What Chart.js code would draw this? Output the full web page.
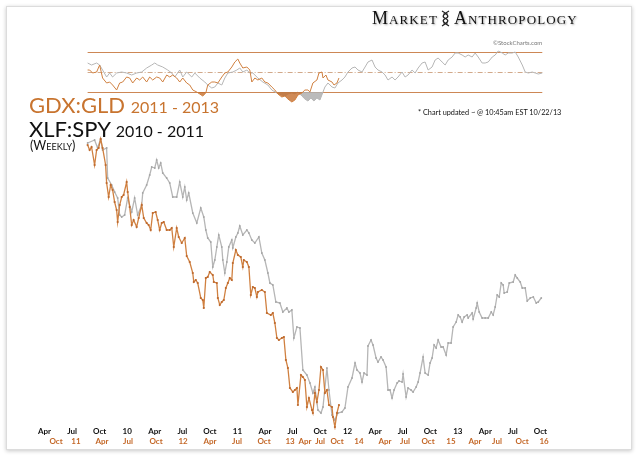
<!DOCTYPE html>
<html><head><meta charset="utf-8">
<script src="https://cdn.jsdelivr.net/npm/chart.js@4.4.1/dist/chart.umd.min.js"></script>
<style>
html,body{margin:0;padding:0;background:#fff;width:640px;height:461px;overflow:hidden;}
#card{position:absolute;left:6px;top:6px;width:624px;height:442px;border:1px solid #dcdcdc;box-shadow:0 1px 4px rgba(0,0,0,0.22);background:#fff;}
#wrap{position:absolute;left:0;top:0;width:640px;height:461px;}
.t{position:absolute;white-space:nowrap;font-family:Lato,'Open Sans',sans-serif;line-height:1;}
#brand{left:372px;top:9px;font-family:'Liberation Serif','DejaVu Serif',serif;font-size:18px;font-variant:small-caps;color:#111;text-shadow:1px 1px 2px rgba(0,0,0,0.35);letter-spacing:1.1px;}
#brand svg{vertical-align:-3px;margin:0 4px 0 3px;}
#sc{left:493px;top:40px;font-size:6px;color:#777;}
#t1{left:29px;top:94px;font-size:22px;color:#c8742f;}
#t1 span{font-size:16px;}
#t2{left:29px;top:118px;font-size:22px;color:#111;}
#t2 span{font-size:16px;}
#t3{left:30px;top:140px;font-size:12.5px;font-variant:small-caps;color:#111;}
#upd{left:418px;top:109px;font-size:7.3px;color:#111;}
</style></head>
<body>
<div id="card"></div>
<div id="wrap"><canvas id="c" width="640" height="461"></canvas></div>
<div class="t" id="brand">Market<svg width="9" height="17" viewBox="0 0 9 17"><path d="M1 1 C8 5, 8 7, 4.5 8.5 C1 10, 1 12, 8 16" stroke="#222" stroke-width="1.3" fill="none"/><path d="M8 1 C1 5, 1 7, 4.5 8.5 C8 10, 8 12, 1 16" stroke="#222" stroke-width="1.3" fill="none"/><path d="M2 4H7M2 13H7" stroke="#222" stroke-width="0.8"/></svg>Anthropology</div>
<div class="t" id="sc">©StockCharts.com</div>
<div class="t" id="t1">GDX:GLD <span>2011 - 2013</span></div>
<div class="t" id="t2">XLF:SPY <span>2010 - 2011</span></div>
<div class="t" id="t3">(Weekly)</div>
<div class="t" id="upd">* Chart updated ~ @ 10:45am EST 10/22/13</div>
<script>
// x positions are months since Jan 2009 (XLF:SPY timeline)
const grayMonths = [7.69,8.45,8.78,9.11,9.32,9.76,9.87,10.31,10.63,10.96,11.18,11.40,11.72,12.05,12.49,12.81,13.14,13.58,13.69,14.12,14.45,14.67,15.00,15.21,15.43,15.65,15.87,16.30,16.63,16.96,17.39,17.72,18.05,18.27,18.48,18.70,19.14,19.58,20.01,20.34,20.56,20.77,21.10,21.32,21.54,21.76,21.97,22.30,22.41,22.63,22.85,23.06,23.39,23.50,23.83,24.05,24.26,24.59,25.03,25.25,25.57,25.90,26.34,26.66,26.99,27.32,27.54,27.86,28.19,28.63,28.95,29.39,29.61,29.93,30.15,30.48,30.81,31.13,31.57,31.90,32.22,32.44,32.77,33.10,33.32,33.75,33.97,34.30,34.62,34.95,35.39,35.71,36.04,36.48,36.81,37.02,37.35,37.57,37.79,38.11,38.22,38.55,38.77,39.10,39.31,39.64,39.86,40.19,40.40,40.62,40.84,41.06,41.39,41.60,41.93,42.04,42.37,42.58,42.91,43.13,43.46,43.68,43.89,44.22,44.44,44.77,44.98,45.20,45.42,45.64,45.86,46.18,46.40,46.73,46.95,47.27,47.49,47.82,48.04,48.26,48.47,48.69,49.02,49.13,49.56,49.67,50.00,50.11,50.33,50.65,50.98,51.31,51.64,51.85,52.07,52.29,52.51,52.73,52.94,53.05,53.38,53.60,54.03,54.25,54.47,54.80,55.02,55.34,55.56,55.89,56.22,56.54,56.76,57.09];
const grayValues = [297,300,292,301,290,292,262,255,248,242,225,223,225,242,228,242,225,235,247,255,265,273,272,280,272,277,267,262,257,243,243,258,243,253,240,247,227,217,232,223,210,202,198,173,180,193,205,193,180,167,178,193,200,192,203,207,214,205,210,207,200,197,203,187,180,167,157,155,138,137,128,132,128,130,102,113,112,70,65,57,47,53,30,27,33,72,50,25,20,27,28,32,53,62,77,70,67,58,67,65,94,100,95,82,78,83,80,73,50,50,42,50,57,59,58,66,43,52,50,48,53,58,67,83,67,65,77,82,95,92,100,93,93,85,97,97,113,118,125,123,118,123,125,122,127,121,132,137,128,122,122,122,128,125,133,145,143,157,155,147,148,157,158,165,162,158,152,152,139,142,143,137,138,142];

// GDX:GLD plotted on the same axis (shifted timeline)
const orangeMonths = [7.69,7.91,8.12,8.45,8.67,8.89,9.11,9.32,9.65,9.76,9.98,10.20,10.41,10.63,10.85,10.96,11.18,11.40,11.61,11.94,12.05,12.27,12.49,12.70,13.03,13.25,13.58,13.80,14.12,14.34,14.56,14.78,15.10,15.32,15.54,15.76,15.98,16.30,16.63,16.85,17.07,17.39,17.61,17.94,18.27,18.48,18.81,19.14,19.25,19.47,19.68,20.01,20.23,20.34,20.56,20.77,20.99,21.32,21.43,21.76,21.87,22.08,22.30,22.52,22.74,22.96,23.17,23.39,23.50,23.83,24.05,24.37,24.59,24.70,25.03,25.25,25.46,25.68,25.90,26.12,26.23,26.66,26.99,27.21,27.64,27.86,28.08,28.30,28.52,28.84,29.06,29.28,29.50,29.72,30.04,30.26,30.48,30.59,30.92,31.13,31.35,31.57,31.79,32.12,32.22,32.44,32.66,32.88,33.10,33.32,33.53,33.75,33.97,34.30,34.41,34.62,34.84,35.06];
const orangeValues = [295,290,293,275,290,292,301,292,275,257,243,255,250,238,230,218,235,243,245,258,248,233,215,220,213,222,235,222,217,215,210,227,228,220,210,217,218,210,210,212,193,212,203,197,202,184,178,167,158,160,157,142,140,132,162,163,168,165,158,157,142,135,138,140,152,157,162,160,177,190,185,183,173,180,178,173,145,153,152,143,148,150,148,127,125,127,117,102,100,102,103,80,72,52,48,50,52,35,65,63,60,33,42,30,27,47,38,50,73,70,47,50,35,33,23,13,27,35];

// top panel oscillator
const rsiGrayMonths = [7.69,8.12,8.67,9.00,9.32,9.76,10.09,10.41,10.85,11.40,11.94,12.49,13.03,13.58,14.12,14.67,15.00,15.32,15.87,16.41,16.85,17.18,17.72,18.05,18.48,19.03,19.36,19.90,20.45,20.77,21.21,21.54,21.87,22.30,22.63,22.96,23.50,23.94,24.26,24.59,25.03,25.35,25.68,26.23,26.77,27.32,27.75,28.30,28.84,29.17,29.50,29.93,30.26,30.59,31.02,31.35,31.68,32.01,32.33,32.66,32.99,33.32,33.53,33.86,34.30,34.62,34.95,35.39,35.71,36.04,36.48,36.81,37.13,37.57,37.90,38.22,38.66,38.99,39.31,39.75,40.08,40.40,40.84,41.17,41.49,41.93,42.26,42.58,43.02,43.35,43.68,44.11,44.44,44.77,45.20,45.53,45.86,46.29,46.62,46.95,47.38,47.71,48.04,48.47,48.80,49.13,49.56,49.89,50.22,50.65,50.98,51.31,51.75,52.07,52.40,52.84,53.16,53.49,53.93,54.25,54.58,55.02,55.34,55.67,56.11,56.43,56.76,57.20];
const rsiGrayValues = [59,57,59,57,52,45,49,45,49,50,49,47,49,50,54,57,59,57,55,52,49,45,52,45,50,45,49,44,40,37,34,35,39,37,44,49,50,52,54,50,52,49,49,44,40,37,32,29,27,26,28,29,28,30,26,23,21,24,21,24,22,30,35,39,35,34,39,42,45,50,54,55,52,50,55,60,62,55,52,50,47,42,45,42,45,50,45,47,52,49,54,59,60,52,55,62,64,60,57,62,65,69,69,67,65,67,65,69,65,59,59,60,65,67,71,69,67,69,69,70,65,57,50,49,50,49,48,49];
const rsiOrangeMonths = [7.69,7.91,8.23,8.67,9.00,9.32,9.76,10.09,10.41,10.85,11.18,11.51,11.94,12.27,12.60,13.03,13.36,13.69,14.12,14.45,14.78,15.21,15.54,15.87,16.30,16.63,16.96,17.39,17.72,18.05,18.48,18.81,19.14,19.58,19.90,20.23,20.56,20.77,21.21,21.54,21.87,22.30,22.63,22.96,23.39,23.72,24.05,24.26,24.59,25.03,25.35,25.57,25.90,26.23,26.66,26.99,27.32,27.75,28.08,28.41,28.84,29.17,29.50,29.93,30.26,30.59,31.02,31.35,31.68,31.90,32.22,32.66,32.88,33.21,33.32,33.64,33.86,34.30,34.52,34.84,35.06];
const rsiOrangeValues = [52,52,49,50,57,44,39,40,37,32,39,40,45,44,39,44,42,45,40,45,42,45,44,40,47,45,47,44,40,44,39,37,32,30,28,26,29,37,40,40,39,45,49,50,55,60,63,59,54,55,52,40,44,42,44,40,39,35,32,28,25,26,23,20,22,27,29,32,32,30,39,42,49,50,44,47,42,40,37,39,44];
const rsiLevels = [70, 50, 30];

// x-axis tick labels
const blackTickMonths = [3,6,9,12,15,18,21,24,27,30,33,36,39,42,45,48,51,54,57];
const blackTickLabels = ['Apr','Jul','Oct','10','Apr','Jul','Oct','11','Apr','Jul','Oct','12','Apr','Jul','Oct','13','Apr','Jul','Oct'];
const orangeTickMonths = [4.25,6.42,9.26,12.09,15.14,18.08,21.02,23.96,26.90,29.73,31.36,33.0,34.85,37.24,40.07,42.25,44.76,47.26,49.87,52.27,55.0,57.39];
const orangeTickLabels = ['Oct','11','Apr','Jul','Oct','12','Apr','Jul','Oct','13','Apr','Jul','Oct','14','Apr','Jul','Oct','15','Apr','Jul','Oct','16'];

const GRAY = 'rgb(182,182,182)';
const ORANGE = 'rgb(208,128,64)';
const zip = (xs, ys) => xs.map((x, i) => ({x: x, y: ys[i]}));

const levelPlugin = {
  id: 'levels',
  beforeDatasetsDraw(chart) {
    const {ctx, scales} = chart;
    const x0 = scales.x.getPixelForValue(rsiGrayMonths[0]);
    const x1 = scales.x.getPixelForValue(rsiGrayMonths[rsiGrayMonths.length - 1]);
    ctx.save();
    rsiLevels.forEach((lv, i) => {
      const y = Math.round(scales.yr.getPixelForValue(lv)) + 0.5;
      ctx.beginPath();
      if (i === 1) { ctx.setLineDash([5, 2, 1, 2]); ctx.strokeStyle = 'rgba(205,160,125,0.9)'; }
      else { ctx.setLineDash([]); ctx.strokeStyle = 'rgb(205,135,85)'; }
      ctx.lineWidth = 1;
      ctx.moveTo(x0, y); ctx.lineTo(x1, y); ctx.stroke();
    });
    ctx.restore();
  }
};
const tickPlugin = {
  id: 'ticks2',
  afterDraw(chart) {
    const {ctx, scales} = chart;
    ctx.save();
    ctx.font = 'bold 8px Lato, sans-serif';
    ctx.textAlign = 'center';
    ctx.textBaseline = 'middle';
    ctx.fillStyle = '#111';
    blackTickMonths.forEach((m, i) => ctx.fillText(blackTickLabels[i], scales.x.getPixelForValue(m), 431));
    ctx.fillStyle = 'rgb(196,104,40)';
    orangeTickMonths.forEach((m, i) => ctx.fillText(orangeTickLabels[i], scales.x.getPixelForValue(m), 441));
    ctx.restore();
  }
};

new Chart(document.getElementById('c'), {
  type: 'line',
  data: {
    datasets: [
      {label: 'GDX:GLD', data: zip(orangeMonths, orangeValues), yAxisID: 'y', borderColor: ORANGE, borderWidth: 1.3,
       pointRadius: 1.1, pointBackgroundColor: 'rgb(190,105,45)', pointBorderWidth: 0, order: 0, tension: 0},
      {label: 'XLF:SPY', data: zip(grayMonths, grayValues), yAxisID: 'y', borderColor: GRAY, borderWidth: 1.3,
       pointRadius: 0.9, pointBackgroundColor: 'rgb(165,165,165)', pointBorderWidth: 0, order: 1, tension: 0},
      {label: 'GDX:GLD osc', data: zip(rsiOrangeMonths, rsiOrangeValues), yAxisID: 'yr', borderColor: ORANGE, borderWidth: 1,
       pointRadius: 0, order: 2, tension: 0,
       fill: {target: {value: 30}, above: 'rgba(0,0,0,0)', below: 'rgba(196,110,45,0.8)'}},
      {label: 'XLF:SPY osc', data: zip(rsiGrayMonths, rsiGrayValues), yAxisID: 'yr', borderColor: GRAY, borderWidth: 1,
       pointRadius: 0, order: 3, tension: 0,
       fill: {target: {value: 30}, above: 'rgba(0,0,0,0)', below: 'rgba(175,175,175,0.85)'}}
    ]
  },
  options: {
    responsive: false,
    animation: false,
    devicePixelRatio: 1,
    layout: {padding: {left: 17, right: 72, top: 47, bottom: 31}},
    plugins: {legend: {display: false}, tooltip: {enabled: false}, title: {display: false}},
    scales: {
      x: {type: 'linear', min: 0, max: 60, display: false},
      y: {min: 10, max: 393, display: false},
      yr: {min: -308, max: 75, display: false}
    }
  },
  plugins: [levelPlugin, tickPlugin]
});
</script>
</body></html>
